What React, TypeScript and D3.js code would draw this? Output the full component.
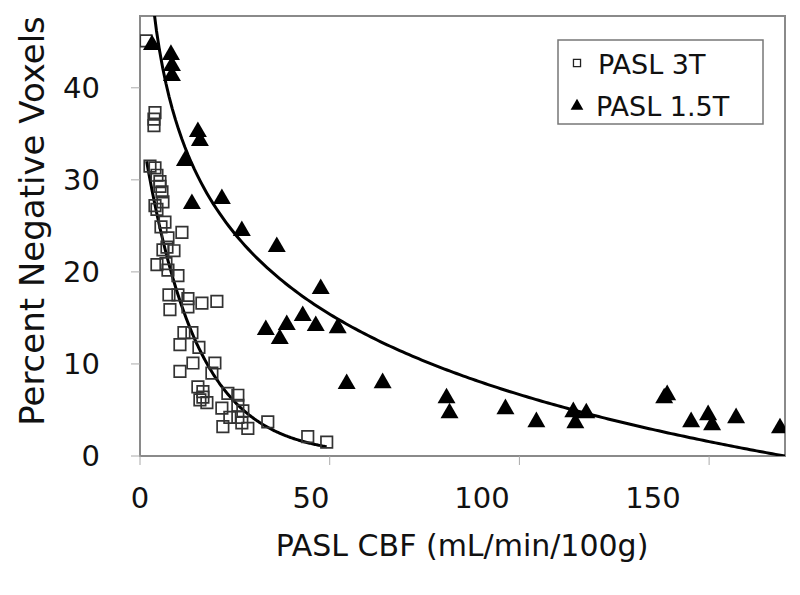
import React from "react";
import * as d3 from "d3";

// ---- data ----
const X_TICKS = [0, 50, 100, 150];
const Y_TICKS = [0, 10, 20, 30, 40];

const CBF_3T = [
  1.58, 3.95, 3.68, 3.68, 2.63, 3.95, 4.47, 5.26, 5.26, 5.79, 6.05, 3.95, 4.47,
  6.58, 5.53, 7.37, 11.05, 7.11, 6.05, 8.95, 4.47, 6.84, 7.37, 10.0, 7.63,
  10.0, 12.63, 12.63, 16.32, 20.26, 7.89, 11.58, 13.68, 10.53, 15.53, 10.53,
  13.95, 19.74, 18.95, 15.26, 16.58, 16.58, 17.63, 15.79, 23.16, 25.79, 21.58,
  25.79, 27.11, 23.68, 25.79, 21.84, 26.84, 28.42, 33.68, 44.21, 49.21,
];
const NEG_3T = [
  45.1, 37.3, 36.6, 35.9, 31.5, 31.3, 30.5, 29.8, 29.3, 28.7, 27.6, 27.2, 26.8,
  25.4, 24.9, 23.7, 24.3, 22.7, 22.4, 22.3, 20.8, 20.9, 20.2, 19.6, 17.5, 17.5,
  17.1, 16.2, 16.6, 16.8, 15.9, 13.4, 13.4, 12.1, 11.8, 9.2, 10.1, 10.1, 9.0,
  7.5, 7.0, 6.4, 5.8, 6.1, 6.8, 6.6, 5.2, 5.5, 4.9, 4.2, 4.2, 3.2, 3.6, 3.0,
  3.7, 2.1, 1.5,
];

const CBF_15T = [
  3.16, 8.16, 8.42, 8.42, 15.26, 15.79, 11.84, 13.68, 21.58, 26.84, 36.05,
  47.63, 33.16, 38.68, 36.84, 42.89, 46.32, 52.11, 54.47, 63.95, 80.79, 81.58,
  96.32, 104.47, 114.21, 114.74, 117.63, 138.16, 138.95, 145.26, 149.74,
  150.79, 157.11, 168.68,
];
const NEG_15T = [
  44.67, 43.59, 42.39, 41.3, 35.22, 34.24, 32.07, 27.39, 27.93, 24.46, 22.72,
  18.15, 13.7, 14.24, 12.72, 15.22, 14.13, 13.91, 7.83, 7.93, 6.3, 4.67, 5.11,
  3.7, 4.78, 3.59, 4.67, 6.3, 6.63, 3.7, 4.46, 3.37, 4.13, 3.04,
];

// trend lines
const FIT_15T_A = 64.7; // y = A - B ln(x)
const FIT_15T_B = 12.6;
const FIT_15T_RANGE = [3.5, 170];
const FIT_3T_A = 36.4; // y = A exp(-k x)
const FIT_3T_K = 0.073;
const FIT_3T_RANGE = [1.76, 49.2];

const SERIES_NAMES = ["PASL 3T", "PASL 1.5T"];
const X_TITLE = "PASL CBF (mL/min/100g)";
const Y_TITLE = "Percent Negative Voxels";

const W = 800;
const H = 595;
const FONT = "'DejaVu Sans', Verdana, sans-serif";

export default function App() {
  const left = 140,
    right = 785,
    top = 16,
    bottom = 456;
  const x = d3.scaleLinear().domain([0, 170]).range([left, right]);
  const y = d3.scaleLinear().domain([0, 47.8]).range([bottom, top]);
  // tick labels in the reference sit on a tighter spacing than the tick marks
  const xLab = d3.scaleLinear().domain([0, 150]).range([140, 653]);

  const sample = (a: number, b: number, f: (v: number) => number) =>
    d3.range(0, 201).map((i) => {
      const v = a + ((b - a) * i) / 200;
      return [v, f(v)] as [number, number];
    });
  const pathGen = d3
    .line<[number, number]>()
    .x((d) => x(d[0]))
    .y((d) => y(d[1]));
  const curve15 = pathGen(
    sample(FIT_15T_RANGE[0], FIT_15T_RANGE[1], (v) => FIT_15T_A - FIT_15T_B * Math.log(v))
  );
  const curve3 = pathGen(
    sample(FIT_3T_RANGE[0], FIT_3T_RANGE[1], (v) => FIT_3T_A * Math.exp(-FIT_3T_K * v))
  );

  const tri = d3.symbol().type(d3.symbolTriangle).size(140)();
  const sq = d3.symbol().type(d3.symbolSquare).size(132)();
  const triLeg = d3.symbol().type(d3.symbolTriangle).size(70)();
  const sqLeg = d3.symbol().type(d3.symbolSquare).size(50)();

  return (
    <svg width={W} height={H} style={{ position: "absolute", left: 0, top: 0, background: "#fff" }}>
      <defs>
        <clipPath id="plot">
          <rect x={left} y={top} width={right - left} height={bottom - top} />
        </clipPath>
      </defs>
      <rect x={0} y={0} width={W} height={H} fill="#fff" />

      {/* frame */}
      <rect x={left} y={top} width={right - left} height={bottom - top} fill="none" stroke="#8a8a8a" strokeWidth={2} />

      {/* y ticks */}
      {Y_TICKS.map((t) => (
        <g key={"y" + t}>
          <line x1={left - 9} x2={left} y1={y(t)} y2={y(t)} stroke="#aaa" strokeWidth={1} />
          <text x={100} y={y(t)} dy="0.36em" textAnchor="end" fontFamily={FONT} fontSize={29} fill="#111">
            {t}
          </text>
        </g>
      ))}
      {/* x ticks */}
      {X_TICKS.map((t) => (
        <g key={"x" + t}>
          <line x1={x(t)} x2={x(t)} y1={bottom} y2={bottom + 9} stroke="#aaa" strokeWidth={1} />
          <text x={xLab(t)} y={508} textAnchor="middle" fontFamily={FONT} fontSize={29} fill="#111">
            {t}
          </text>
        </g>
      ))}

      <text x={462} y={556} textAnchor="middle" fontFamily={FONT} fontSize={30} fill="#111">
        {X_TITLE}
      </text>
      <text
        transform={`translate(44,221) rotate(-90)`}
        textAnchor="middle"
        fontFamily={FONT}
        fontSize={34}
        fill="#111"
      >
        {Y_TITLE}
      </text>

      <g clipPath="url(#plot)">
        <path d={curve15 || ""} fill="none" stroke="#000" strokeWidth={3} />
        <path d={curve3 || ""} fill="none" stroke="#000" strokeWidth={3} />
        {CBF_3T.map((c, i) => (
          <path
            key={"s" + i}
            d={sq || ""}
            transform={`translate(${x(c)},${y(NEG_3T[i])})`}
            fill="none"
            stroke="#333"
            strokeWidth={1.7}
          />
        ))}
        {CBF_15T.map((c, i) => (
          <path
            key={"t" + i}
            d={tri || ""}
            transform={`translate(${x(c)},${y(NEG_15T[i])})`}
            fill="#000"
          />
        ))}
      </g>

      {/* legend */}
      <rect x={558} y={40} width={205} height={84} fill="#fff" stroke="#777" strokeWidth={1.5} />
      <path d={sqLeg || ""} transform="translate(577,63)" fill="none" stroke="#222" strokeWidth={1.3} />
      <text x={598} y={74} fontFamily={FONT} fontSize={27} fill="#111">
        {SERIES_NAMES[0]}
      </text>
      <path d={triLeg || ""} transform="translate(577,106)" fill="#000" />
      <text x={596} y={116} fontFamily={FONT} fontSize={27} fill="#111">
        {SERIES_NAMES[1]}
      </text>
    </svg>
  );
}
